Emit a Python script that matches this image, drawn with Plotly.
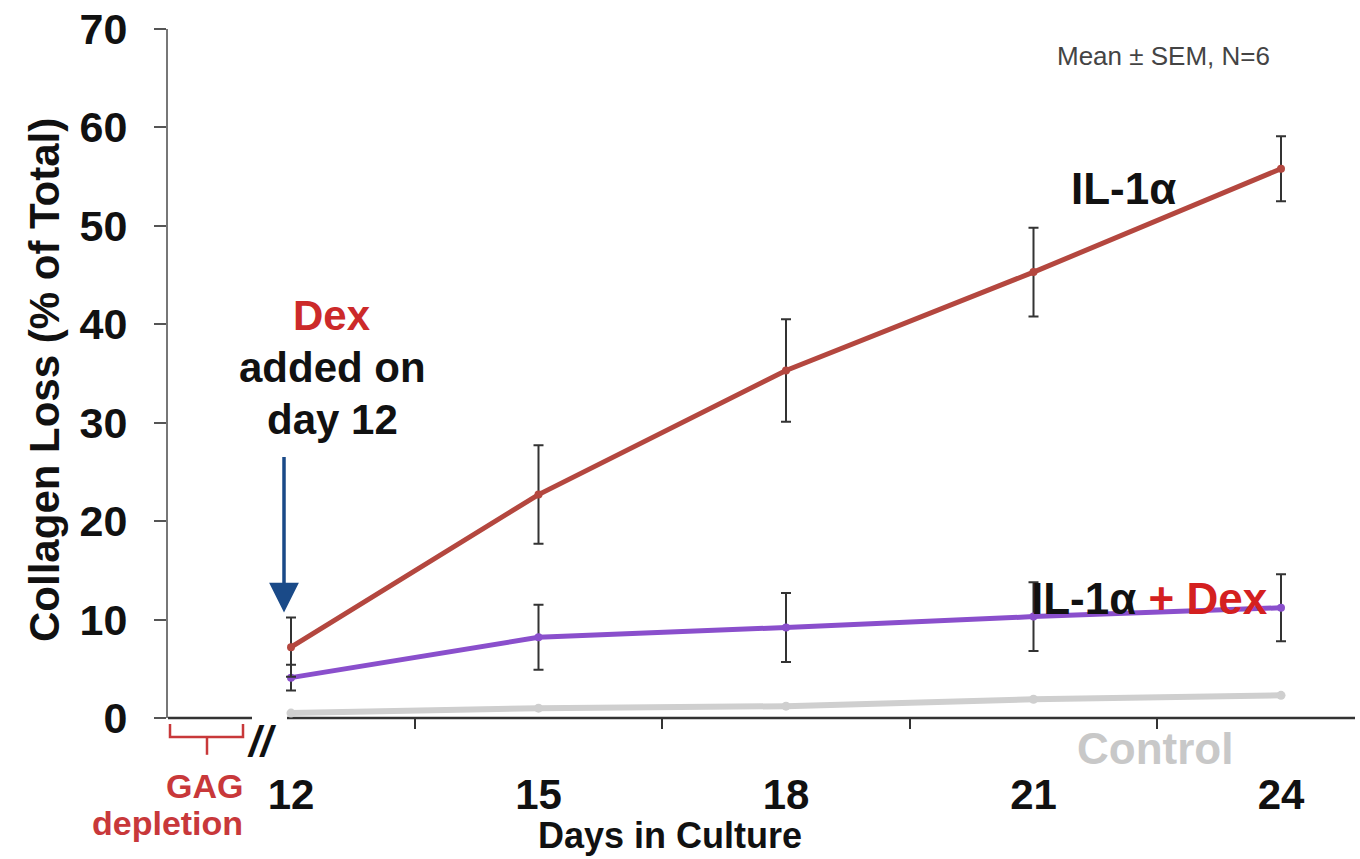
import plotly.graph_objects as go

# ---- data ----
days = [12, 15, 18, 21, 24]
day_labels = ["12", "15", "18", "21", "24"]
il1 = [7.2, 22.7, 35.3, 45.3, 55.8]
il1_err = [3.0, 5.0, 5.2, 4.5, 3.3]
il1_dex = [4.1, 8.2, 9.2, 10.3, 11.2]
il1_dex_err = [1.3, 3.3, 3.5, 3.5, 3.4]
control = [0.5, 1.0, 1.2, 1.9, 2.3]
y_ticks = [0, 10, 20, 30, 40, 50, 60, 70]
between_ticks = [13.5, 16.5, 19.5, 22.5]

W, H = 1360, 859
L, R, T, B = 168, 1355, 25, 718

def px(x):
    return (x - L) / (R - L)

def py(y):
    return (B - y) / (B - T)

FONT = "Liberation Sans"
RED_LINE = "#b4473f"
PURPLE = "#8a4fcc"
GRAY = "#cfcfcf"
ERR = "#333333"

fig = go.Figure()

fig.add_trace(go.Scatter(
    x=days, y=control, mode="lines+markers",
    line=dict(color=GRAY, width=6), marker=dict(color=GRAY, size=9),
    showlegend=False, cliponaxis=False))
fig.add_trace(go.Scatter(
    x=days, y=il1_dex, mode="lines+markers",
    line=dict(color=PURPLE, width=5), marker=dict(color=PURPLE, size=8),
    error_y=dict(type="data", array=il1_dex_err, visible=True, color=ERR, thickness=2, width=5),
    showlegend=False, cliponaxis=False))
fig.add_trace(go.Scatter(
    x=days, y=il1, mode="lines+markers",
    line=dict(color=RED_LINE, width=5), marker=dict(color=RED_LINE, size=8),
    error_y=dict(type="data", array=il1_err, visible=True, color=ERR, thickness=2, width=5),
    showlegend=False, cliponaxis=False))

x0 = 12 - (291 - L) / 82.5
x1 = 24 + (R - 1281) / 82.5

fig.update_layout(
    width=W, height=H,
    margin=dict(l=L, r=W - R, t=T, b=H - B),
    paper_bgcolor="white", plot_bgcolor="white",
    font=dict(family=FONT, color="#111"),
    xaxis=dict(
        range=[x0, x1], showgrid=False, zeroline=False, showline=False,
        tickmode="array", tickvals=days, ticktext=day_labels, ticks="",
        tickfont=dict(family=FONT, size=42, color="#111", weight="bold"),
        ticklabelstandoff=48,
        minor=dict(tickmode="array", tickvals=between_ticks, ticks="outside",
                   ticklen=10, tickwidth=2, tickcolor="#333"),
    ),
    yaxis=dict(
        range=[0, 70], showgrid=False, zeroline=False, showline=True,
        linecolor="#777", linewidth=2,
        tickmode="array", tickvals=y_ticks, ticks="outside", ticklen=12,
        tickwidth=2, tickcolor="#555",
        tickfont=dict(family=FONT, size=43, color="#111", weight="bold"),
        ticklabelstandoff=18,
    ),
)

shapes = [
    # x-axis line with break
    dict(type="line", xref="paper", yref="paper", x0=px(168), x1=px(252), y0=0, y1=0,
         line=dict(color="#333", width=2.5), layer="below"),
    dict(type="line", xref="paper", yref="paper", x0=px(287), x1=px(1355), y0=0, y1=0,
         line=dict(color="#333", width=2.5), layer="below"),
    # GAG depletion bracket
    dict(type="path", xref="paper", yref="paper",
         path=f"M {px(170)} {py(724)} L {px(170)} {py(737)} L {px(243)} {py(737)} L {px(243)} {py(724)}",
         line=dict(color="#c8383a", width=2.5)),
    dict(type="line", xref="paper", yref="paper", x0=px(207), x1=px(207), y0=py(737), y1=py(755),
         line=dict(color="#c8383a", width=2.5)),
]
fig.update_layout(shapes=shapes)

ann = []
def text(x, y, s, size, color, bold=True, xanchor="center"):
    ann.append(dict(x=px(x), y=py(y), xref="paper", yref="paper", text=s, showarrow=False,
                    xanchor=xanchor, yanchor="middle",
                    font=dict(family=FONT, size=size, color=color, weight="bold" if bold else "normal")))

text(1163, 52, "Mean ± SEM, N=6", 26, "#444", bold=False)
text(1123, 185, "IL-1α", 44, "#111")
text(1149, 598, "IL-1α <span style='color:#d42020'>+ Dex</span>", 44, "#111")
text(1155, 749, "Control", 44, "#c8c8c8")
text(332, 313, "Dex", 42, "#cc2a2a")
text(332, 365, "added on", 42, "#111")
text(332, 418, "day 12", 42, "#111")
text(245, 786, "GAG", 34, "#c8383a", xanchor="right")
text(245, 824, "depletion", 34, "#c8383a", xanchor="right")
text(262, 742, "<i>//</i>", 42, "#111")
text(670, 836, "Days in Culture", 36, "#111")
ann.append(dict(x=px(45), y=py(378), xref="paper", yref="paper", text="Collagen Loss (% of Total)",
                showarrow=False, textangle=-90, xanchor="center", yanchor="middle",
                font=dict(family=FONT, size=42, color="#111", weight="bold")))
# Dex arrow
ann.append(dict(x=px(284), y=py(612), xref="paper", yref="paper", text="", showarrow=True,
                ax=0, ay=-157, arrowcolor="#1a4a88", arrowwidth=3.5, arrowhead=2, arrowsize=1.7,
                standoff=0))
fig.update_layout(annotations=ann)

fig.write_html("out.html")
